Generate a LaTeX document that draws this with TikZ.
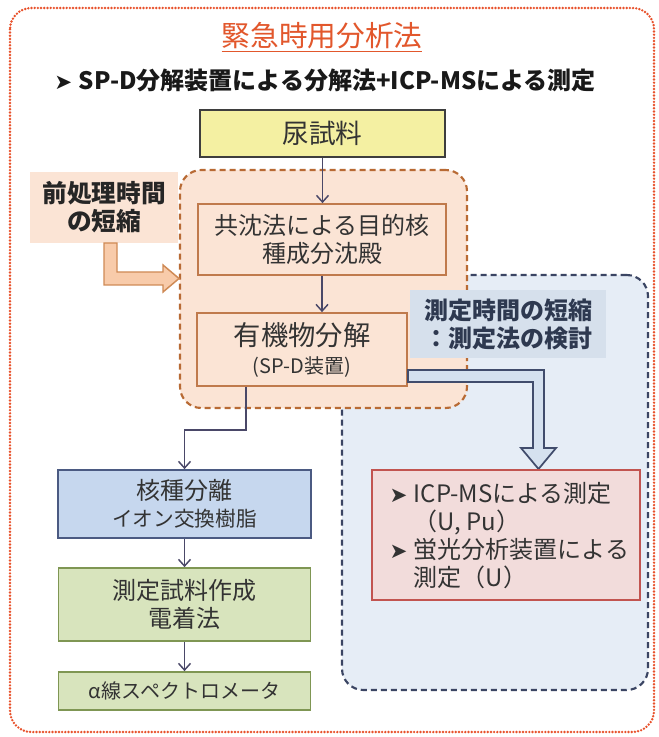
\documentclass[tikz,border=0pt]{standalone}
\usepackage{fontspec}
\setmainfont{Noto Sans CJK JP}
\newfontfamily\dejavu{DejaVu Sans}
\usetikzlibrary{arrows.meta,calc}
\definecolor{outerred}{HTML}{E8512B}
\definecolor{titlered}{HTML}{E2572C}
\definecolor{txt}{HTML}{333333}
\definecolor{yelfill}{HTML}{F4F0A2}
\definecolor{yelline}{HTML}{3E3E3E}
\definecolor{peach}{HTML}{FBE4D5}
\definecolor{peachline}{HTML}{B86A34}
\definecolor{boxline}{HTML}{C07A4C}
\definecolor{bluereg}{HTML}{E6EDF6}
\definecolor{bluedash}{HTML}{3B4563}
\definecolor{labblue}{HTML}{D6E0EC}
\definecolor{labtxt}{HTML}{2E3950}
\definecolor{kakfill}{HTML}{C6D7EE}
\definecolor{kakline}{HTML}{4B5A82}
\definecolor{grnfill}{HTML}{D8E4BD}
\definecolor{grnline}{HTML}{7F9653}
\definecolor{pinkfill}{HTML}{F2DCDB}
\definecolor{pinkline}{HTML}{C25450}
\definecolor{arr}{HTML}{4A4868}
\definecolor{oarrfill}{HTML}{F8CBAA}
\definecolor{oarrline}{HTML}{CF8A55}
\definecolor{barrfill}{HTML}{D5E1EF}
\definecolor{barrline}{HTML}{414C6C}
\newcommand{\bul}{{\dejavu\fontsize{16}{16}\selectfont ➤}}
\begin{document}
\begin{tikzpicture}[x=0.75pt,y=-0.75pt,
  sz/.style 2 args={minimum width=#1*0.75pt,minimum height=#2*0.75pt,inner sep=0pt},
  every node/.style={align=center,text=txt},
  flow/.style={draw=arr,line width=1.1pt,-{Straight Barb[length=5pt,width=9pt]}},
  region/.style={line width=1.6pt,dash pattern=on 4.5pt off 3pt,rounded corners=16pt},
  stepbox/.style={line width=1.3pt}]
\useasboundingbox (0,0) rectangle (658,737);
\fill[white] (0,0) rectangle (658,737);
\draw[outerred,line width=2pt,line cap=round,dash pattern=on 0pt off 2.4pt,rounded corners=16pt] (10,8) rectangle (654,732);

\node[text=titlered,font=\fontsize{21.5}{24}\selectfont] (title) at (322,37) {\underline{緊急時用分析法}};
\node[text=black!90,font=\fontsize{18}{21}\selectfont\bfseries] (sub) at (325,80) {\bul\hspace{5pt}SP-D分解装置による分解法+ICP-MSによる測定};

\node[sz={306}{415},region,draw=bluedash,fill=bluereg] (breg) at (495,482.5) {};
\node[sz={287}{238},region,draw=peachline,fill=peach] (oreg) at (323.5,289) {};

\node[sz={245}{47},draw=yelline,fill=yelfill,line width=1.6pt,font=\fontsize{20}{24}\selectfont] (urine) at (322.5,133.5) {尿試料};
\node[sz={148}{71},fill=peach,text=black!85,font=\fontsize{18.5}{21}\selectfont\bfseries] (pre) at (104,207.5) {前処理時間\\の短縮};
\node[sz={248}{71},stepbox,draw=boxline,fill=peach,font=\fontsize{18}{21}\selectfont] (kyo) at (322,239.5) {共沈法による目的核\\種成分沈殿};
\node[sz={210}{73},stepbox,draw=boxline,fill=peach,font=\fontsize{15}{21}\selectfont] (yuki) at (302,349.5) {{\fontsize{20.5}{22}\selectfont 有機物分解}\\(SP-D装置)};

\draw[draw=barrline,fill=barrfill,line width=1.3pt] (408,370) -- (544,370) -- (544,448) -- (556,448) -- (538.5,469) -- (521,448) -- (533,448) -- (533,382) -- (408,382) -- cycle;

\node[sz={196}{68},fill=labblue,text=labtxt,font=\fontsize{18}{21}\selectfont\bfseries] (meas) at (508,324) {測定時間の短縮\\：測定法の検討};

\node[sz={268}{130},stepbox,draw=pinkline,fill=pinkfill] (pink) at (506,535) {};
\node[anchor=north west,align=left,font=\fontsize{18}{21}\selectfont] (pinktxt) at (385,478) {\makebox[18pt][l]{\bul}ICP-MSによる測定\\\hspace*{18pt}（U, Pu）\\\makebox[18pt][l]{\bul}蛍光分析装置による\\\hspace*{18pt}測定（U）};

\node[sz={253}{68},stepbox,draw=kakline,fill=kakfill,font=\fontsize{15.5}{20}\selectfont] (kak) at (184.5,504) {{\fontsize{18}{20}\selectfont 核種分離}\\イオン交換樹脂};
\node[sz={252}{73},stepbox,draw=grnline,fill=grnfill,font=\fontsize{18}{21}\selectfont] (sok) at (184.5,604.5) {測定試料作成\\電着法};
\node[sz={252}{38},stepbox,draw=grnline,fill=grnfill,font=\fontsize{15}{18}\selectfont] (alp) at (184.5,691) {α線スペクトロメータ};

\draw[draw=oarrline,fill=oarrfill,line width=1.1pt] (104,243) -- (117,243) -- (117,272) -- (163,272) -- (163,265) -- (179,278.5) -- (163,292) -- (163,285) -- (104,285) -- cycle;

\draw[flow] (urine.south) -- (urine.south |- kyo.north);
\draw[flow] (kyo.south) -- (kyo.south |- yuki.north);
\coordinate (bend) at ($(yuki.south west)+(50,43)$);
\draw[flow] ($(yuki.south west)+(50,0)$) -- (bend) -| (kak.north);
\draw[flow] (kak.south) -- (sok.north);
\draw[flow] (sok.south) -- (alp.north);
\end{tikzpicture}
\end{document}
